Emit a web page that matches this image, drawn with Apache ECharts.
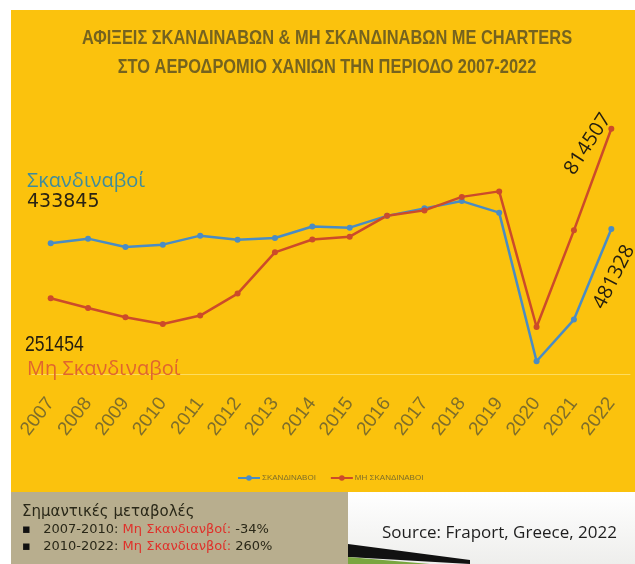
<!DOCTYPE html>
<html>
<head>
<meta charset="utf-8">
<script src="https://cdn.jsdelivr.net/npm/echarts@6/dist/echarts.min.js"></script>
<style>
  html, body { margin: 0; padding: 0; background: #fff; }
  #chart { width: 635px; height: 564px; }
</style>
</head>
<body>
<div id="chart"></div>
<script>
// values
var years = ['2007', '2008', '2009', '2010', '2011', '2012', '2013', '2014',
  '2015', '2016', '2017', '2018', '2019', '2020', '2021', '2022']
var scandi = [433845, 449500, 421700, 429600, 459500, 446200, 451500, 489700,
  486000, 525200, 550100, 574300, 535800, 42400, 180800, 481328]
var nonScandi = [251454, 219300, 188400, 166000, 194100, 267000, 404100, 446600,
  456200, 525900, 543400, 588200, 606500, 156200, 477100, 814507]
var seriesNames = ['ΣΚΑΝΔΙΝΑΒΟΙ', 'ΜΗ ΣΚΑΝΔΙΝΑΒΟΙ']
var titleLines = ['ΑΦΙΞΕΙΣ ΣΚΑΝΔΙΝΑΒΩΝ & ΜΗ ΣΚΑΝΔΙΝΑΒΩΝ ΜΕ CHARTERS',
  'ΣΤΟ ΑΕΡΟΔΡΟΜΙΟ ΧΑΝΙΩΝ ΤΗΝ ΠΕΡΙΟΔΟ 2007-2022']

var chart = echarts.init(document.getElementById('chart'))

var olive = '#7f6e2a'
var blue = '#4a8cc4'
var red = '#cc4b2a'
var titleFont = 'bold 20px "Liberation Sans", sans-serif'

chart.setOption({
  backgroundColor: '#fff',
  animation: false,
  graphic: [
    // yellow panel
    { type: 'rect', z: 0, shape: { x: 11, y: 10, width: 624, height: 482 }, style: { fill: '#fbc20d' } },
    // bottom-left box
    { type: 'rect', z: 0, shape: { x: 11, y: 492, width: 337, height: 72 }, style: { fill: '#b8ae8e' } },
    // bottom-right decoration
    {
      type: 'rect', z: 0, shape: { x: 348, y: 492, width: 287, height: 72 },
      style: {
        fill: new echarts.graphic.LinearGradient(0, 0, 0, 1, [
          { offset: 0, color: '#ffffff' }, { offset: 1, color: '#eeeeec' }
        ])
      }
    },
    { type: 'polygon', z: 1, shape: { points: [[348, 544], [470, 560], [470, 564], [348, 557]] }, style: { fill: '#111' } },
    { type: 'polygon', z: 1, shape: { points: [[348, 557], [430, 564], [348, 564]] }, style: { fill: '#7aa640' } },
    // title
    {
      type: 'text', z: 5, x: 327, y: 38, scaleX: 0.82,
      style: { text: titleLines[0], fill: '#75631f', font: titleFont, align: 'center', verticalAlign: 'middle' }
    },
    {
      type: 'text', z: 5, x: 327, y: 67, scaleX: 0.82,
      style: { text: titleLines[1], fill: '#75631f', font: titleFont, align: 'center', verticalAlign: 'middle' }
    },
    // annotations
    { type: 'text', z: 5, x: 27, y: 181, style: { text: 'Σκανδιναβοί', fill: '#3f8c9c', font: '20px "Open Sans", sans-serif', verticalAlign: 'middle' } },
    { type: 'text', z: 5, x: 27, y: 202, style: { text: '433845', fill: '#2b2413', font: '19px "DejaVu Sans", sans-serif', verticalAlign: 'middle' } },
    { type: 'text', z: 5, x: 25, y: 345, scaleX: 0.8, style: { text: '251454', fill: '#231d10', font: '22px "Liberation Sans", sans-serif', verticalAlign: 'middle' } },
    { type: 'text', z: 5, x: 27, y: 369, style: { text: 'Μη Σκανδιναβοί', fill: '#e0652f', font: '20px "Open Sans", sans-serif', verticalAlign: 'middle' } },
    { type: 'text', z: 5, x: 588, y: 144, rotation: 57 * Math.PI / 180, style: { text: '814507', fill: '#231d10', font: '20px "Open Sans", sans-serif', align: 'center', verticalAlign: 'middle' } },
    { type: 'text', z: 5, x: 614, y: 277, rotation: 63 * Math.PI / 180, style: { text: '481328', fill: '#231d10', font: '20px "Open Sans", sans-serif', align: 'center', verticalAlign: 'middle' } },
    // notes box
    { type: 'text', z: 5, x: 22, y: 512, style: { text: 'Σημαντικές μεταβολές', fill: '#2a2818', font: '15px "DejaVu Sans", sans-serif', verticalAlign: 'middle' } },
    {
      type: 'text', z: 5, x: 22, y: 530,
      style: {
        text: '{b|▪}   2007-2010: {r|Μη Σκανδιανβοί:} -34%', fill: '#2a2818',
        font: '13px "DejaVu Sans", sans-serif', verticalAlign: 'middle',
        rich: { b: { fill: '#111', font: '13px "DejaVu Sans", sans-serif' }, r: { fill: '#e0302a', font: '13px "DejaVu Sans", sans-serif' } }
      }
    },
    {
      type: 'text', z: 5, x: 22, y: 547,
      style: {
        text: '{b|▪}   2010-2022: {r|Μη Σκανδιανβοί:} 260%', fill: '#2a2818',
        font: '13px "DejaVu Sans", sans-serif', verticalAlign: 'middle',
        rich: { b: { fill: '#111', font: '13px "DejaVu Sans", sans-serif' }, r: { fill: '#e0302a', font: '13px "DejaVu Sans", sans-serif' } }
      }
    },
    { type: 'text', z: 5, x: 382, y: 533, style: { text: 'Source: Fraport, Greece, 2022', fill: '#1e1e1e', font: '17px "Open Sans", sans-serif', verticalAlign: 'middle' } }
  ],
  legend: {
    data: seriesNames,
    left: 232,
    top: 469,
    itemWidth: 22,
    itemHeight: 7,
    itemGap: 14,
    textStyle: { color: olive, fontSize: 8, padding: [0, 0, 0, -3] }
  },
  grid: { left: 32, right: 5, top: 103, bottom: 190 },
  xAxis: {
    type: 'category',
    data: years,
    boundaryGap: true,
    axisLine: { show: true, lineStyle: { color: 'rgba(255,236,150,0.6)', width: 1 } },
    axisTick: { show: false },
    axisLabel: {
      rotate: 52,
      margin: 26,
      interval: 0,
      color: olive,
      fontSize: 19,
      fontFamily: 'Liberation Sans'
    }
  },
  yAxis: {
    type: 'value',
    min: 0,
    max: 900000,
    show: false
  },
  series: [{
    name: seriesNames[0],
    type: 'line',
    data: scandi,
    symbol: 'circle',
    symbolSize: 6,
    lineStyle: { color: blue, width: 2.5 },
    itemStyle: { color: blue }
  }, {
    name: seriesNames[1],
    type: 'line',
    data: nonScandi,
    symbol: 'circle',
    symbolSize: 6,
    lineStyle: { color: red, width: 2.5 },
    itemStyle: { color: red }
  }]
})
</script>
</body>
</html>
